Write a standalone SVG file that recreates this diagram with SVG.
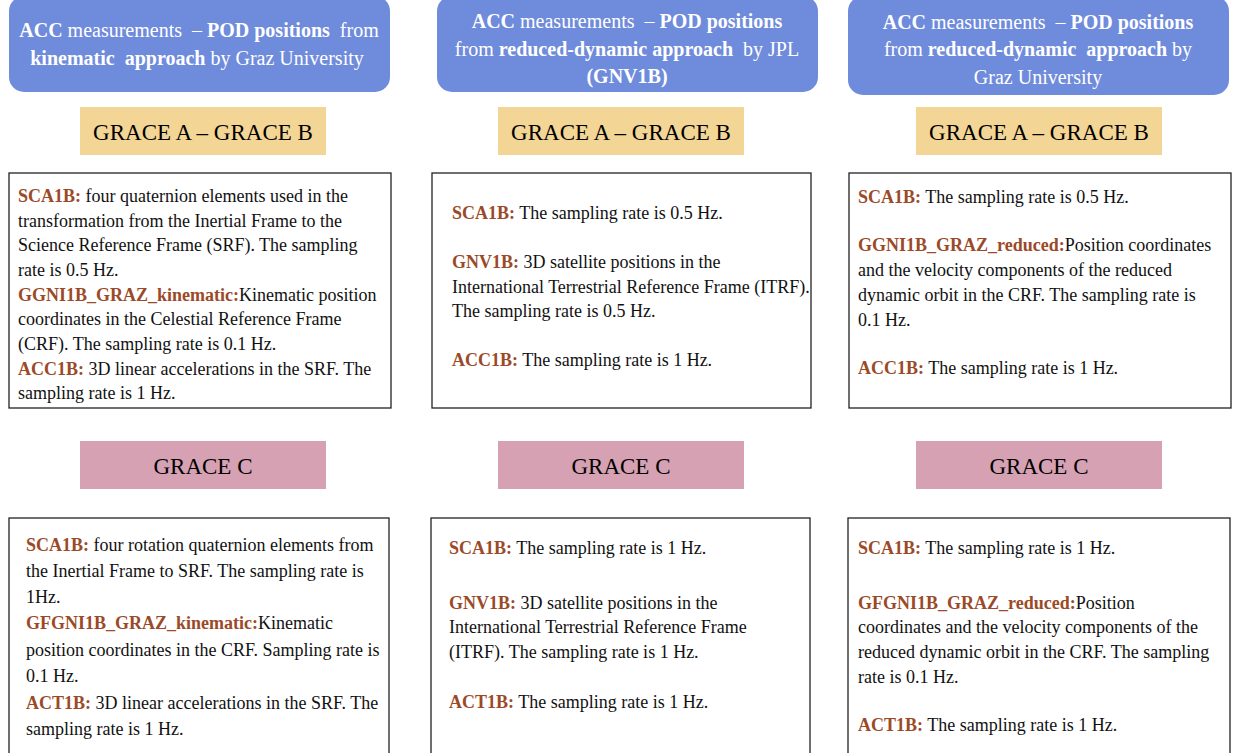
<svg xmlns="http://www.w3.org/2000/svg" width="1233" height="753" viewBox="0 0 1233 753">
<style>
.hdr{fill:#6F8BDB;}
.ab{fill:#F3D596;}
.c{fill:#D5A1B3;}
.box{fill:#fff;stroke:#222;stroke-width:1.3;}
.t{font-family:"Liberation Serif","Times New Roman",serif;}
.ht{font-size:20px;fill:#fff;text-anchor:middle;white-space:pre;}
.lab{font-size:23px;fill:#000;text-anchor:middle;}
.bd{font-size:18px;fill:#111;}
.k{font-weight:bold;fill:#9B4A28;}
.b{font-weight:bold;}
</style>
<rect width="1233" height="753" fill="#fff"/>

<g id="header1">
<rect class="hdr" x="9" y="-4" width="381" height="96" rx="15"/>
<text class="t ht" x="199" y="37" xml:space="preserve"><tspan class="b">ACC</tspan> measurements  – <tspan class="b">POD positions</tspan>  from</text>
<text class="t ht" x="197" y="65" xml:space="preserve"><tspan class="b">kinematic  approach</tspan> by Graz University</text>
</g>
<g id="header2">
<rect class="hdr" x="437" y="-4" width="381" height="96" rx="15"/>
<text class="t ht" x="627" y="28" xml:space="preserve"><tspan class="b">ACC</tspan> measurements  – <tspan class="b">POD positions</tspan></text>
<text class="t ht" x="627" y="56" xml:space="preserve">from <tspan class="b">reduced-dynamic approach</tspan>  by JPL</text>
<text class="t ht" x="627" y="83"><tspan class="b">(GNV1B)</tspan></text>
</g>
<g id="header3">
<rect class="hdr" x="848" y="-4" width="381" height="99" rx="15"/>
<text class="t ht" x="1038" y="29" xml:space="preserve"><tspan class="b">ACC</tspan> measurements  – <tspan class="b">POD positions</tspan></text>
<text class="t ht" x="1038" y="56" xml:space="preserve">from <tspan class="b">reduced-dynamic  approach</tspan> by</text>
<text class="t ht" x="1038" y="84">Graz University</text>
</g>

<g id="ab1"><rect class="ab" x="80" y="107" width="246" height="48"/><text class="t lab" x="203" y="140">GRACE A – GRACE B</text></g>
<g id="ab2"><rect class="ab" x="498" y="107" width="246" height="48"/><text class="t lab" x="621" y="140">GRACE A – GRACE B</text></g>
<g id="ab3"><rect class="ab" x="916" y="107" width="246" height="48"/><text class="t lab" x="1039" y="140">GRACE A – GRACE B</text></g>

<g id="ab1-info">
<rect class="box" x="9" y="173" width="382" height="235"/>
<text class="t bd" x="18" y="202"><tspan class="k">SCA1B:</tspan> four quaternion elements used in the</text>
<text class="t bd" x="18" y="226.5">transformation from the Inertial Frame to the</text>
<text class="t bd" x="18" y="251">Science Reference Frame (SRF). The sampling</text>
<text class="t bd" x="18" y="276">rate is 0.5 Hz.</text>
<text class="t bd" x="18" y="300.5"><tspan class="k">GGNI1B_GRAZ_kinematic:</tspan>Kinematic position</text>
<text class="t bd" x="18" y="325">coordinates in the Celestial Reference Frame</text>
<text class="t bd" x="18" y="350">(CRF). The sampling rate is 0.1 Hz.</text>
<text class="t bd" x="18" y="374.5"><tspan class="k">ACC1B:</tspan> 3D linear accelerations in the SRF. The</text>
<text class="t bd" x="18" y="399">sampling rate is 1 Hz.</text>
</g>
<g id="ab2-info">
<rect class="box" x="432" y="173" width="379" height="235"/>
<text class="t bd" x="452" y="219"><tspan class="k">SCA1B:</tspan> The sampling rate is 0.5 Hz.</text>
<text class="t bd" x="452" y="268"><tspan class="k">GNV1B:</tspan> 3D satellite positions in the</text>
<text class="t bd" x="452" y="292.5">International Terrestrial Reference Frame (ITRF).</text>
<text class="t bd" x="452" y="317">The sampling rate is 0.5 Hz.</text>
<text class="t bd" x="452" y="366"><tspan class="k">ACC1B:</tspan> The sampling rate is 1 Hz.</text>
</g>
<g id="ab3-info">
<rect class="box" x="849" y="173" width="382" height="235"/>
<text class="t bd" x="858" y="203"><tspan class="k">SCA1B:</tspan> The sampling rate is 0.5 Hz.</text>
<text class="t bd" x="858" y="251"><tspan class="k">GGNI1B_GRAZ_reduced:</tspan>Position coordinates</text>
<text class="t bd" x="858" y="276">and the velocity components of the reduced</text>
<text class="t bd" x="858" y="301">dynamic orbit in the CRF. The sampling rate is</text>
<text class="t bd" x="858" y="326">0.1 Hz.</text>
<text class="t bd" x="858" y="374"><tspan class="k">ACC1B:</tspan> The sampling rate is 1 Hz.</text>
</g>

<g id="c1"><rect class="c" x="80" y="441" width="246" height="48"/><text class="t lab" x="203" y="474">GRACE C</text></g>
<g id="c2"><rect class="c" x="498" y="441" width="246" height="48"/><text class="t lab" x="621" y="474">GRACE C</text></g>
<g id="c3"><rect class="c" x="916" y="441" width="246" height="48"/><text class="t lab" x="1039" y="474">GRACE C</text></g>

<g id="c1-info">
<rect class="box" x="9" y="518" width="380" height="250"/>
<text class="t bd" x="26" y="551"><tspan class="k">SCA1B:</tspan> four rotation quaternion elements from</text>
<text class="t bd" x="26" y="577">the Inertial Frame to SRF. The sampling rate is</text>
<text class="t bd" x="26" y="603">1Hz.</text>
<text class="t bd" x="26" y="629"><tspan class="k">GFGNI1B_GRAZ_kinematic:</tspan>Kinematic</text>
<text class="t bd" x="26" y="656">position coordinates in the CRF. Sampling rate is</text>
<text class="t bd" x="26" y="682">0.1 Hz.</text>
<text class="t bd" x="26" y="709"><tspan class="k">ACT1B:</tspan> 3D linear accelerations in the SRF. The</text>
<text class="t bd" x="26" y="735">sampling rate is 1 Hz.</text>
</g>
<g id="c2-info">
<rect class="box" x="431" y="518" width="379" height="250"/>
<text class="t bd" x="449" y="554"><tspan class="k">SCA1B:</tspan> The sampling rate is 1 Hz.</text>
<text class="t bd" x="449" y="609"><tspan class="k">GNV1B:</tspan> 3D satellite positions in the</text>
<text class="t bd" x="449" y="633">International Terrestrial Reference Frame</text>
<text class="t bd" x="449" y="658">(ITRF). The sampling rate is 1 Hz.</text>
<text class="t bd" x="449" y="708"><tspan class="k">ACT1B:</tspan> The sampling rate is 1 Hz.</text>
</g>
<g id="c3-info">
<rect class="box" x="848" y="518" width="382" height="250"/>
<text class="t bd" x="858" y="554"><tspan class="k">SCA1B:</tspan> The sampling rate is 1 Hz.</text>
<text class="t bd" x="858" y="609"><tspan class="k">GFGNI1B_GRAZ_reduced:</tspan>Position</text>
<text class="t bd" x="858" y="633">coordinates and the velocity components of the</text>
<text class="t bd" x="858" y="658">reduced dynamic orbit in the CRF. The sampling</text>
<text class="t bd" x="858" y="683">rate is 0.1 Hz.</text>
<text class="t bd" x="858" y="731"><tspan class="k">ACT1B:</tspan> The sampling rate is 1 Hz.</text>
</g>
</svg>
